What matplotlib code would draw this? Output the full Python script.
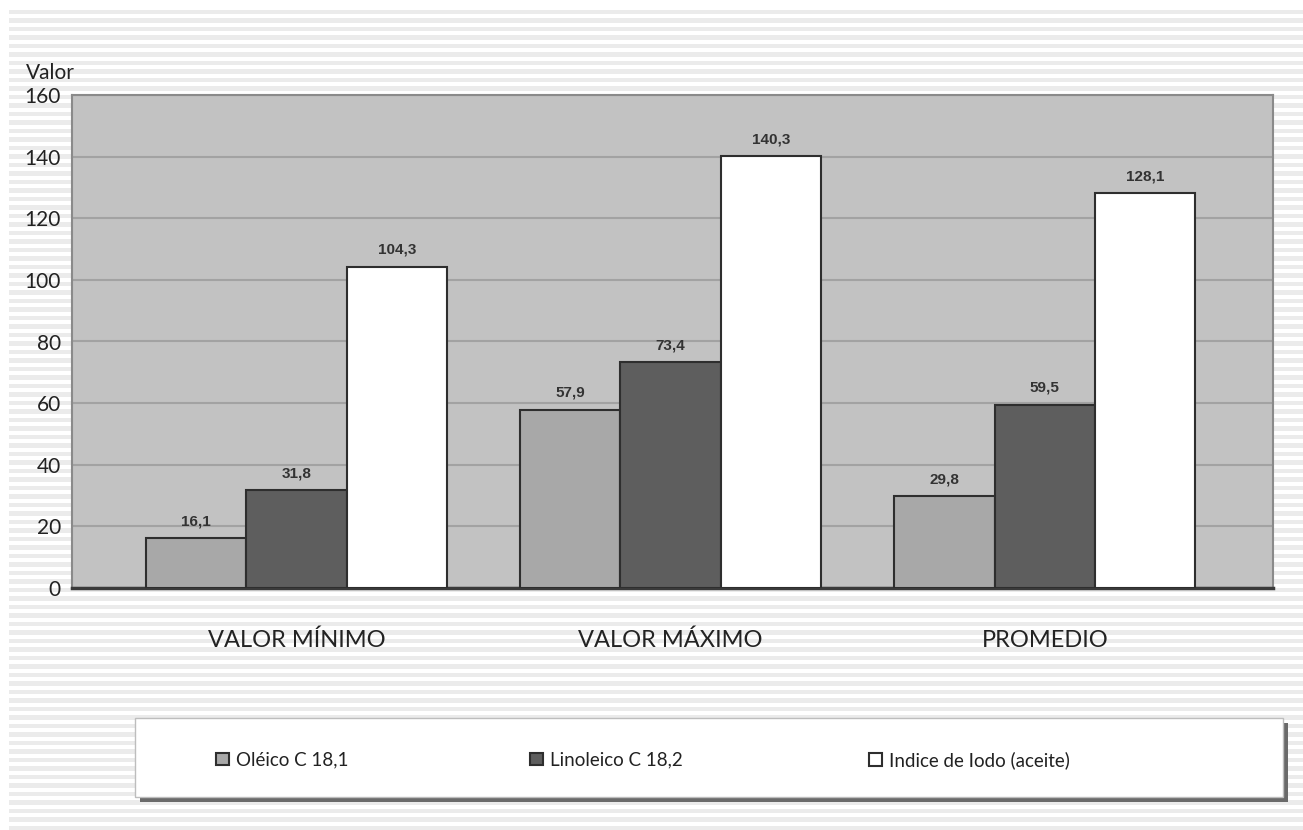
import matplotlib
matplotlib.use("Agg")
import matplotlib.pyplot as plt
import numpy as np
from matplotlib.patches import Rectangle

categories = ["VALOR MÍNIMO", "VALOR MÁXIMO", "PROMEDIO"]
series_names = ["Oléico C 18,1", "Linoleico C 18,2", "Indice de Iodo (aceite)"]
oleico = [16.1, 57.9, 29.8]
linoleico = [31.8, 73.4, 59.5]
iodo = [104.3, 140.3, 128.1]
value_labels = [["16,1", "57,9", "29,8"], ["31,8", "73,4", "59,5"], ["104,3", "140,3", "128,1"]]
yticks = [0, 20, 40, 60, 80, 100, 120, 140, 160]
colors = ["#a8a8a8", "#5e5e5e", "#ffffff"]

FONT = ["Lato", "DejaVu Sans"]
plt.rcParams["font.family"] = FONT

W, H = 1303, 830
fig = plt.figure(figsize=(W / 100, H / 100), dpi=100)
fig.patch.set_facecolor("white")

# striped background
bg = fig.add_axes([9 / W, 0, 1 - 9 / W, 1 - 9 / H])
bg.set_xlim(0, 1)
bg.set_ylim(0, H - 9)
bg.set_facecolor("#e2e2e2")
y = 0.0
while y < H:
    bg.axhspan(y, y + 4.2, color="#ebebeb", lw=0)
    y += 8.5
bg.axis("off")
bg.set_zorder(-10)

# main axes
x0, x1, ytop, ybot = 72, 1273, 95, 588
ax = fig.add_axes([x0 / W, 1 - ybot / H, (x1 - x0) / W, (ybot - ytop) / H])
ax.set_facecolor("#c2c2c2")
ax.set_xlim(-0.6, 2.61)
ax.set_ylim(0, 160)
ax.set_yticks(yticks)
ax.set_yticklabels([str(t) for t in yticks], fontsize=15, color="#222222")
ax.tick_params(axis="y", length=0, pad=8)
ax.set_xticks(range(len(categories)))
ax.set_xticklabels(categories, fontsize=17, color="#222222")
ax.tick_params(axis="x", length=0, pad=30)
ax.yaxis.grid(True, color="#a2a2a2", lw=1.5)
ax.set_axisbelow(True)
for s in ["top", "right", "left"]:
    ax.spines[s].set_color("#8a8a8a")
    ax.spines[s].set_linewidth(1.5)
ax.spines["bottom"].set_color("#3a3a3a")
ax.spines["bottom"].set_linewidth(2.5)

x = np.arange(len(categories))
w = 0.268
containers = []
for i, (vals, c) in enumerate(zip([oleico, linoleico, iodo], colors)):
    bars = ax.bar(x + (i - 1) * w, vals, w, color=c, edgecolor="#2e2e2e", lw=1.5,
                  label=series_names[i], zorder=3)
    containers.append(bars)
    for b, lab in zip(bars, value_labels[i]):
        ax.annotate(lab, (b.get_x() + b.get_width() / 2, b.get_height()),
                    xytext=(0, 12), textcoords="offset points", ha="center", va="center",
                    fontsize=11, fontweight="bold", color="#333333",
                    family=["Liberation Sans", "DejaVu Sans"])

fig.text(26 / W, 1 - 73 / H, "Valor", fontsize=15, color="#222222", va="center", ha="left")

# legend box with shadow
lx0, lx1, ly0, ly1 = 135, 1283, 718, 797
fig.patches.append(Rectangle(((lx0 + 5) / W, 1 - (ly1 + 5) / H), (lx1 - lx0) / W, (ly1 - ly0) / H,
                             transform=fig.transFigure, facecolor="#6a6a6a", edgecolor="none", zorder=1))
fig.patches.append(Rectangle((lx0 / W, 1 - ly1 / H), (lx1 - lx0) / W, (ly1 - ly0) / H,
                             transform=fig.transFigure, facecolor="white", edgecolor="#bdbdbd",
                             lw=1, zorder=2))

item_x = [207, 521, 860]
for bars, name, xx in zip(containers, series_names, item_x):
    leg = fig.legend([bars], [name], loc="center left",
                     bbox_to_anchor=(xx / W, 1 - 760 / H), frameon=False,
                     fontsize=13.5, handlelength=0.65, handleheight=0.65, handletextpad=0.4,
                     borderpad=0, labelcolor="#222222")
    leg.set_zorder(5)

fig.savefig("out.png", dpi=100)
